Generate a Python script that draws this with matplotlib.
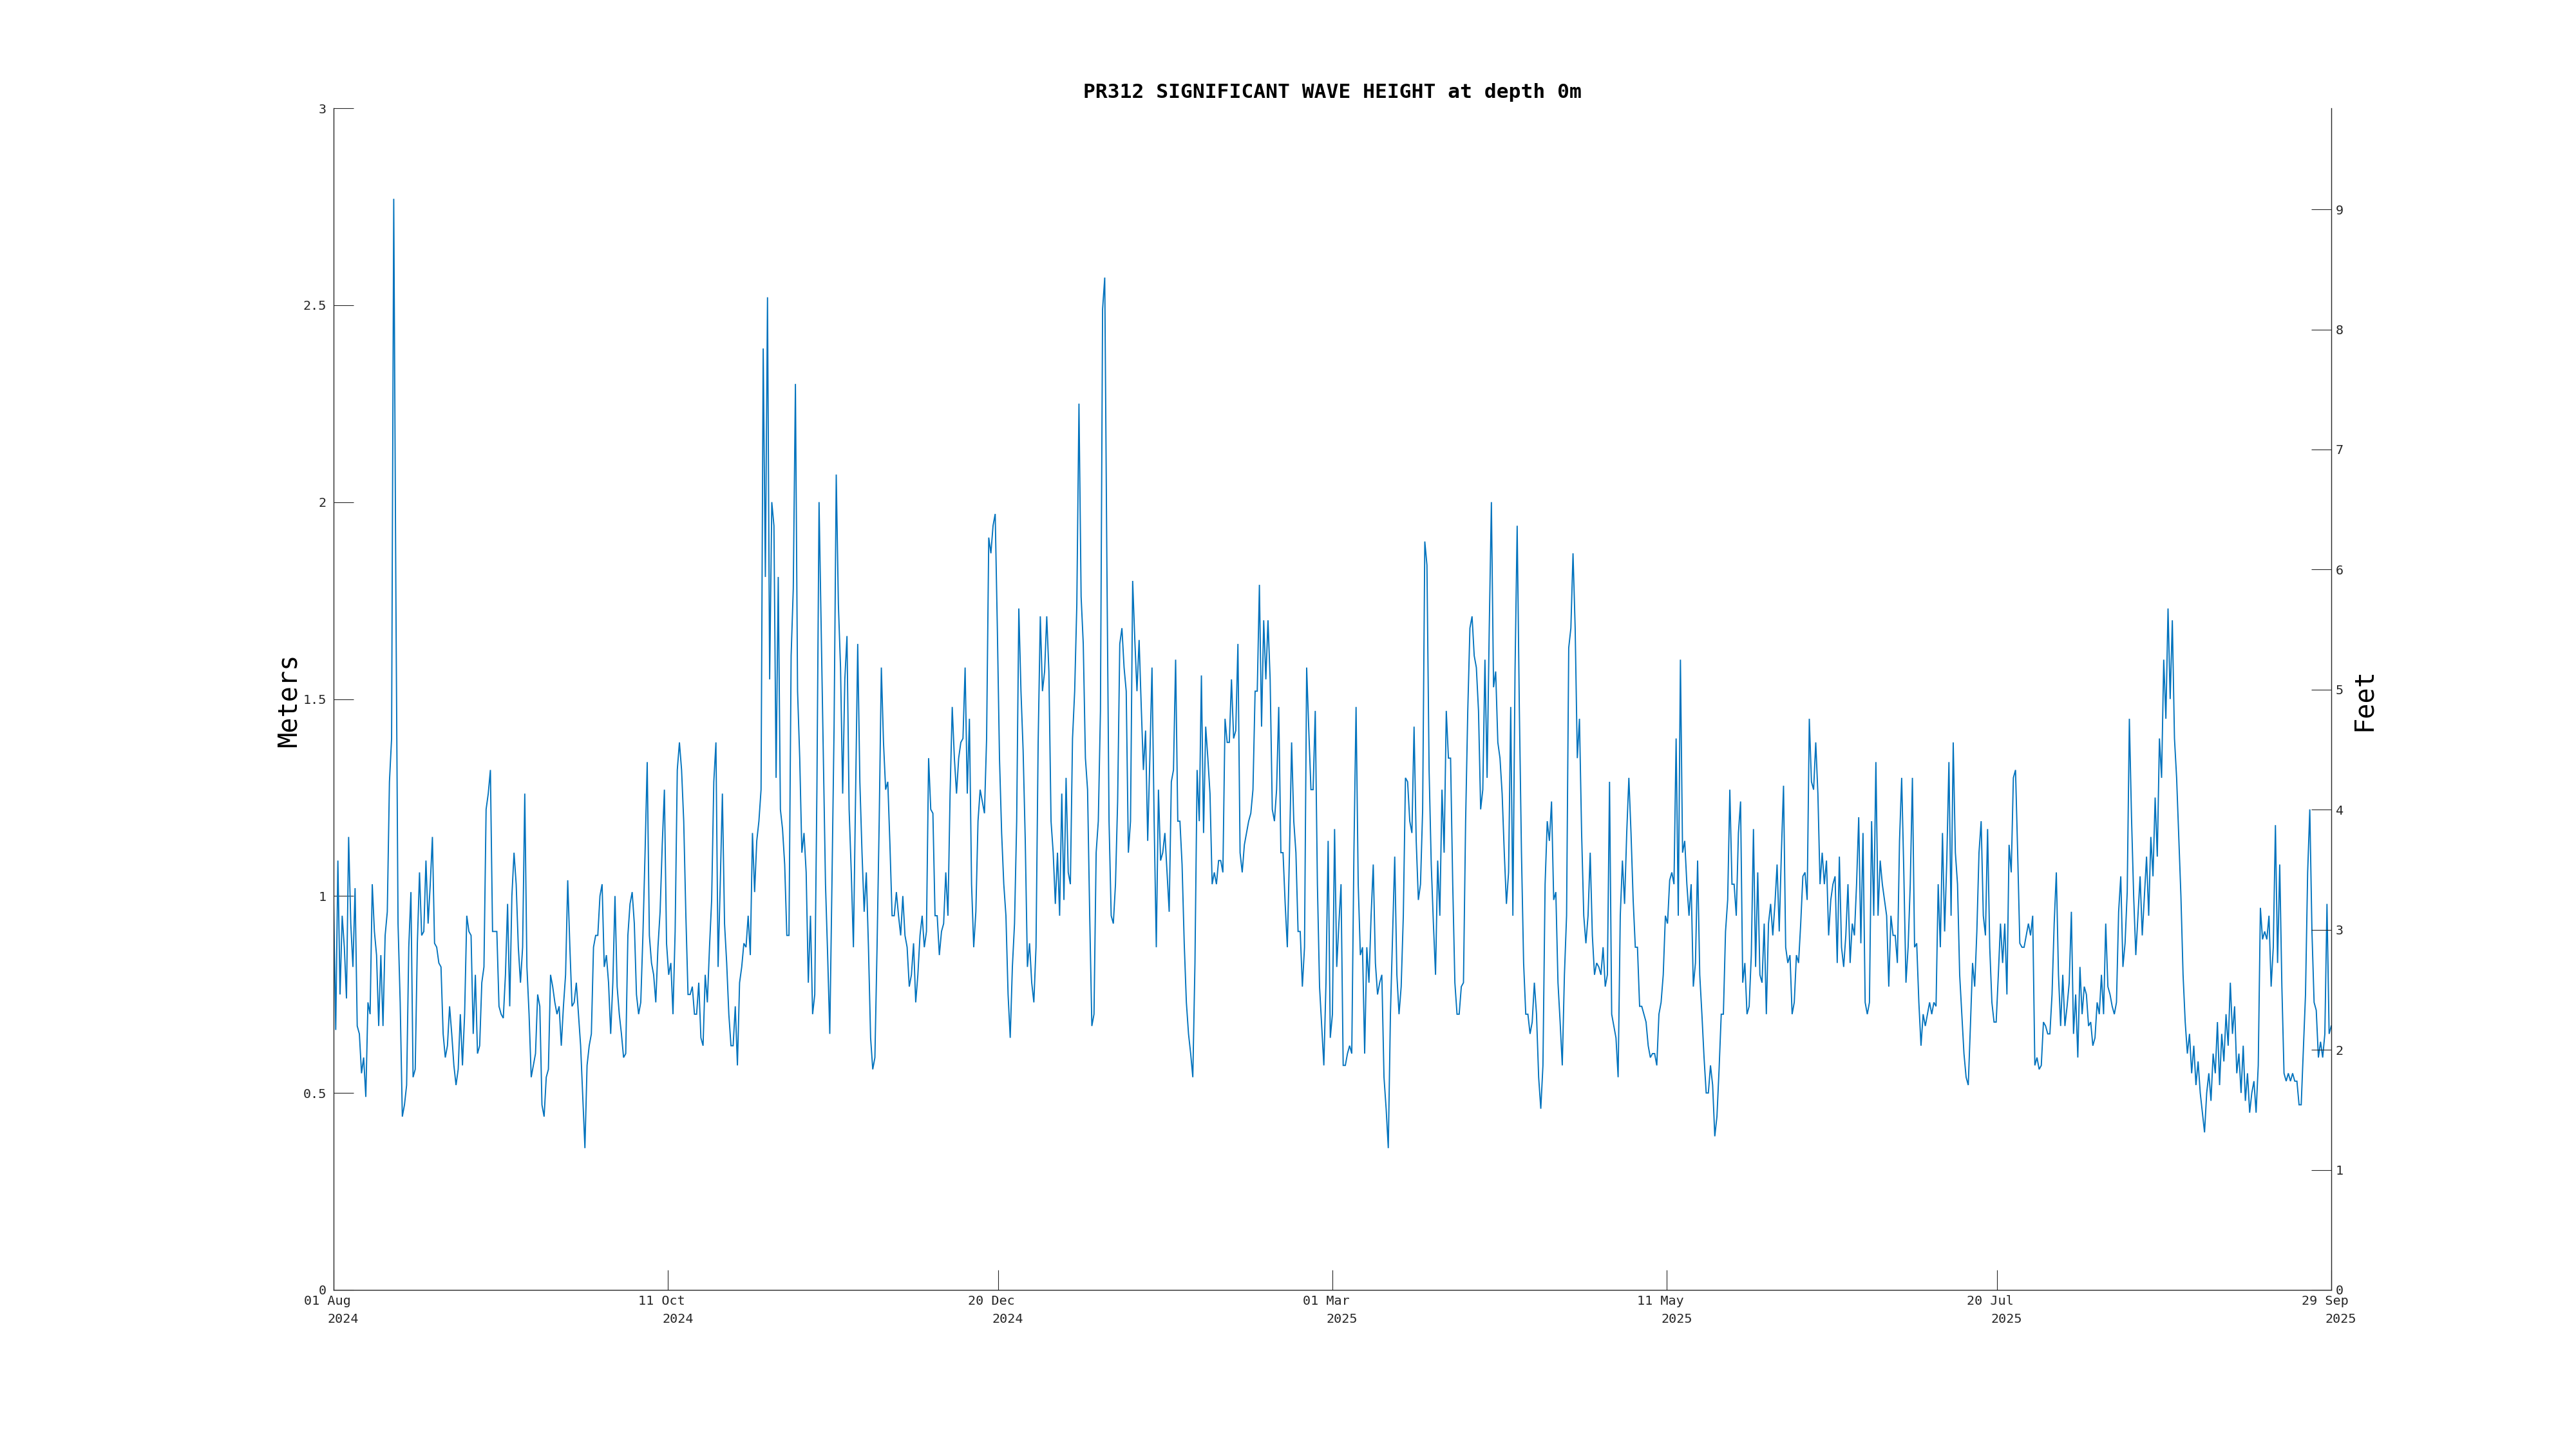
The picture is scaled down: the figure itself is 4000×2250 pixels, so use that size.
import numpy as np
import pandas as pd
import matplotlib
matplotlib.use("Agg")
import matplotlib.pyplot as plt
import matplotlib.dates as mdates
from matplotlib.transforms import ScaledTranslation, blended_transform_factory

# ---------------- data (significant wave height, metres) ----------------
hs_aug_sep_2024 = [
    0.99, 0.66, 1.09, 0.75, 0.95, 0.87, 0.74, 1.15, 0.93, 0.82,
    1.02, 0.67, 0.65, 0.55, 0.59, 0.49, 0.73, 0.70, 1.03, 0.91,
    0.85, 0.67, 0.85, 0.67, 0.90, 0.96, 1.29, 1.40, 2.77, 1.76,
    0.93, 0.73, 0.44, 0.47, 0.52, 0.87, 1.01, 0.54, 0.56, 0.88,
    1.06, 0.90, 0.91, 1.09, 0.93, 1.03, 1.15, 0.88, 0.87, 0.83,
    0.82, 0.65, 0.59, 0.62, 0.72, 0.65, 0.57, 0.52, 0.56, 0.70,
    0.57, 0.70, 0.95, 0.91, 0.90, 0.65, 0.80, 0.60, 0.62, 0.78,
    0.82, 1.22, 1.26, 1.32, 0.91, 0.91, 0.91, 0.72, 0.70, 0.69,
    0.80, 0.98, 0.72, 1.00, 1.11, 1.03, 0.87, 0.78, 0.87, 1.26,
    0.82, 0.70, 0.54]
hs_sep_oct_2024 = [
    0.57, 0.60, 0.75, 0.72, 0.47, 0.44, 0.54, 0.56, 0.80, 0.77,
    0.73, 0.70, 0.72, 0.62, 0.72, 0.80, 1.04, 0.87, 0.72, 0.73,
    0.78, 0.70, 0.62, 0.49, 0.36, 0.57, 0.62, 0.65, 0.87, 0.90,
    0.90, 1.00, 1.03, 0.82, 0.85, 0.78, 0.65, 0.78, 1.00, 0.77,
    0.70, 0.65, 0.59, 0.60, 0.90, 0.98, 1.01, 0.93, 0.75, 0.70,
    0.73, 0.90, 1.11, 1.34, 0.90, 0.83, 0.80, 0.73, 0.87, 0.96,
    1.13, 1.27, 0.88, 0.80, 0.83, 0.70, 0.91, 1.32, 1.39, 1.32,
    1.19, 0.95, 0.75, 0.75, 0.77, 0.70, 0.70, 0.78, 0.64, 0.62,
    0.80, 0.73, 0.87, 0.99, 1.29, 1.39, 0.82, 1.03, 1.26, 0.93,
    0.83, 0.70, 0.62]
hs_oct_dec_2024 = [
    0.62, 0.72, 0.57, 0.78, 0.82, 0.88, 0.87, 0.95, 0.85, 1.16,
    1.01, 1.14, 1.19, 1.27, 2.39, 1.81, 2.52, 1.55, 2.00, 1.94,
    1.30, 1.81, 1.22, 1.17, 1.08, 0.90, 0.90, 1.61, 1.78, 2.30,
    1.52, 1.35, 1.11, 1.16, 1.06, 0.78, 0.95, 0.70, 0.75, 1.27,
    2.00, 1.68, 1.35, 1.03, 0.85, 0.65, 1.03, 1.43, 2.07, 1.74,
    1.58, 1.26, 1.55, 1.66, 1.22, 1.06, 0.87, 1.26, 1.64, 1.29,
    1.11, 0.96, 1.06, 0.87, 0.64, 0.56, 0.59, 0.87, 1.19, 1.58,
    1.39, 1.27, 1.29, 1.13, 0.95, 0.95, 1.01, 0.95, 0.90, 1.00,
    0.90, 0.87, 0.77, 0.80, 0.88, 0.73, 0.80, 0.90, 0.95, 0.87,
    0.91, 1.35, 1.22]
hs_dec_jan_2025 = [
    1.21, 0.95, 0.95, 0.85, 0.91, 0.93, 1.06, 0.95, 1.26, 1.48,
    1.35, 1.26, 1.35, 1.39, 1.40, 1.58, 1.26, 1.45, 1.03, 0.87,
    0.96, 1.19, 1.27, 1.24, 1.21, 1.40, 1.91, 1.87, 1.94, 1.97,
    1.68, 1.35, 1.16, 1.03, 0.95, 0.75, 0.64, 0.82, 0.93, 1.19,
    1.73, 1.52, 1.37, 1.14, 0.82, 0.88, 0.78, 0.73, 0.87, 1.39,
    1.71, 1.52, 1.57, 1.71, 1.57, 1.19, 1.11, 0.98, 1.11, 0.95,
    1.26, 0.99, 1.30, 1.06, 1.03, 1.40, 1.52, 1.74, 2.25, 1.76,
    1.64, 1.35, 1.27, 0.95, 0.67, 0.70, 1.11, 1.19, 1.47, 2.49,
    2.57, 1.84, 1.19, 0.95, 0.93, 1.03, 1.24, 1.64, 1.68, 1.58,
    1.52, 1.11, 1.19]
hs_jan_feb_2025 = [
    1.80, 1.65, 1.52, 1.65, 1.48, 1.32, 1.42, 1.14, 1.35, 1.58,
    1.19, 0.87, 1.27, 1.09, 1.11, 1.16, 1.06, 0.96, 1.29, 1.32,
    1.60, 1.19, 1.19, 1.08, 0.88, 0.73, 0.65, 0.60, 0.54, 0.83,
    1.32, 1.19, 1.56, 1.16, 1.43, 1.35, 1.26, 1.03, 1.06, 1.03,
    1.09, 1.09, 1.06, 1.45, 1.39, 1.39, 1.55, 1.40, 1.42, 1.64,
    1.11, 1.06, 1.13, 1.16, 1.19, 1.21, 1.27, 1.52, 1.52, 1.79,
    1.43, 1.70, 1.55, 1.70, 1.55, 1.22, 1.19, 1.27, 1.48, 1.11,
    1.11, 0.98, 0.87, 1.11, 1.39, 1.19, 1.11, 0.91, 0.91, 0.77,
    0.87, 1.58, 1.42, 1.27, 1.27, 1.47, 1.03, 0.77, 0.67, 0.57,
    0.78, 1.14, 0.64]
hs_mar_apr_2025 = [
    0.70, 1.17, 0.82, 0.93, 1.03, 0.57, 0.57, 0.60, 0.62, 0.60,
    1.11, 1.48, 1.03, 0.85, 0.87, 0.60, 0.87, 0.78, 0.95, 1.08,
    0.83, 0.75, 0.78, 0.80, 0.54, 0.46, 0.36, 0.70, 0.90, 1.10,
    0.80, 0.70, 0.77, 0.95, 1.30, 1.29, 1.19, 1.16, 1.43, 1.14,
    0.99, 1.03, 1.22, 1.90, 1.84, 1.32, 1.08, 0.93, 0.80, 1.09,
    0.95, 1.27, 1.11, 1.47, 1.35, 1.35, 1.03, 0.78, 0.70, 0.70,
    0.77, 0.78, 1.19, 1.47, 1.68, 1.71, 1.61, 1.58, 1.47, 1.22,
    1.27, 1.60, 1.30, 1.68, 2.00, 1.53, 1.57, 1.39, 1.35, 1.26,
    1.11, 0.98, 1.06, 1.48, 0.95, 1.57, 1.94, 1.48, 1.11, 0.83,
    0.70, 0.70, 0.65]
hs_apr_may_2025 = [
    0.68, 0.78, 0.70, 0.54, 0.46, 0.57, 1.03, 1.19, 1.14, 1.24,
    0.99, 1.01, 0.78, 0.68, 0.57, 0.80, 0.95, 1.63, 1.68, 1.87,
    1.68, 1.35, 1.45, 1.16, 0.95, 0.88, 0.95, 1.11, 0.90, 0.80,
    0.83, 0.82, 0.80, 0.87, 0.77, 0.80, 1.29, 0.70, 0.67, 0.64,
    0.54, 0.95, 1.09, 0.98, 1.16, 1.30, 1.16, 0.99, 0.87, 0.87,
    0.72, 0.72, 0.70, 0.68, 0.62, 0.59, 0.60, 0.60, 0.57, 0.70,
    0.73, 0.80, 0.95, 0.93, 1.04, 1.06, 1.03, 1.40, 0.95, 1.60,
    1.11, 1.14, 1.03, 0.95, 1.03, 0.77, 0.83, 1.09, 0.80, 0.70,
    0.59, 0.50, 0.50, 0.57, 0.52, 0.39, 0.44, 0.56, 0.70, 0.70,
    0.91, 0.99, 1.27]
hs_may_jul_2025 = [
    1.03, 1.03, 0.95, 1.16, 1.24, 0.78, 0.83, 0.70, 0.72, 0.85,
    1.17, 0.82, 1.06, 0.80, 0.78, 0.93, 0.70, 0.93, 0.98, 0.90,
    0.98, 1.08, 0.91, 1.11, 1.28, 0.87, 0.83, 0.85, 0.70, 0.73,
    0.85, 0.83, 0.93, 1.05, 1.06, 0.99, 1.45, 1.29, 1.27, 1.39,
    1.26, 1.03, 1.11, 1.03, 1.09, 0.90, 0.99, 1.03, 1.05, 0.83,
    1.10, 0.87, 0.82, 0.90, 1.03, 0.83, 0.93, 0.90, 1.03, 1.20,
    0.88, 1.16, 0.73, 0.70, 0.73, 1.19, 0.95, 1.34, 0.95, 1.09,
    1.03, 0.99, 0.95, 0.77, 0.95, 0.90, 0.90, 0.83, 1.14, 1.30,
    1.06, 0.78, 0.87, 1.03, 1.30, 0.87, 0.88, 0.73, 0.62, 0.70,
    0.67, 0.70, 0.73]
hs_jul_aug_2025 = [
    0.70, 0.73, 0.72, 1.03, 0.87, 1.16, 0.91, 1.09, 1.34, 0.95,
    1.39, 1.11, 1.03, 0.80, 0.70, 0.60, 0.54, 0.52, 0.67, 0.83,
    0.77, 0.91, 1.11, 1.19, 0.95, 0.90, 1.17, 0.87, 0.73, 0.68,
    0.68, 0.80, 0.93, 0.83, 0.93, 0.75, 1.13, 1.06, 1.30, 1.32,
    1.11, 0.88, 0.87, 0.87, 0.90, 0.93, 0.90, 0.95, 0.57, 0.59,
    0.56, 0.57, 0.68, 0.67, 0.65, 0.65, 0.75, 0.93, 1.06, 0.80,
    0.67, 0.80, 0.67, 0.72, 0.78, 0.96, 0.65, 0.75, 0.59, 0.82,
    0.70, 0.77, 0.75, 0.67, 0.68, 0.62, 0.64, 0.73, 0.70, 0.80,
    0.70, 0.93, 0.77, 0.75, 0.72, 0.70, 0.73, 0.96, 1.05, 0.82,
    0.88, 1.01, 1.45]
hs_aug_sep_2025 = [
    1.20, 1.00, 0.85, 0.95, 1.05, 0.90, 1.00, 1.10, 0.95, 1.15,
    1.05, 1.25, 1.10, 1.40, 1.30, 1.60, 1.45, 1.73, 1.50, 1.70,
    1.40, 1.30, 1.15, 1.00, 0.80, 0.68, 0.60, 0.65, 0.55, 0.62,
    0.52, 0.58, 0.50, 0.45, 0.40, 0.50, 0.55, 0.48, 0.60, 0.55,
    0.68, 0.52, 0.65, 0.58, 0.70, 0.62, 0.78, 0.65, 0.72, 0.55,
    0.60, 0.50, 0.62, 0.48, 0.55, 0.45, 0.50,
    0.53, 0.45, 0.57, 0.97, 0.89, 0.91, 0.89, 0.95, 0.77, 0.87,
    1.18, 0.83, 1.08, 0.77, 0.55, 0.53, 0.55, 0.53, 0.55, 0.53,
    0.53, 0.47, 0.47, 0.61, 0.75, 1.06, 1.22, 0.91, 0.73, 0.71,
    0.59, 0.63, 0.59, 0.65, 0.98, 0.65, 0.67]

series_start = "2024-08-01"
series_end = "2025-09-29"

tick_dates = ["2024-08-01", "2024-10-11", "2024-12-20", "2025-03-01",
              "2025-05-11", "2025-07-20", "2025-09-29"]
tick_day_month = ["01 Aug", "11 Oct", "20 Dec", "01 Mar", "11 May", "20 Jul", "29 Sep"]
tick_years = ["2024", "2024", "2024", "2025", "2025", "2025", "2025"]
meter_ticks = [0, 0.5, 1, 1.5, 2, 2.5, 3]
meter_labels = ["0", "0.5", "1", "1.5", "2", "2.5", "3"]
feet_ticks = [0, 1, 2, 3, 4, 5, 6, 7, 8, 9]
M_TO_FT = 3.28084

title_text = "PR312 SIGNIFICANT WAVE HEIGHT at depth 0m"

# ---------------- figure ----------------
plt.rcParams['font.family'] = ['DejaVu Sans Mono', 'DejaVu Sans']
W, H = 4000, 2250
fig = plt.figure(figsize=(W / 100, H / 100), dpi=100)
L, R, T, B = 518, 3620, 168, 2003
ax = fig.add_axes([L / W, 1 - B / H, (R - L) / W, (B - T) / H])

hs = np.concatenate([hs_aug_sep_2024, hs_sep_oct_2024, hs_oct_dec_2024,
                     hs_dec_jan_2025, hs_jan_feb_2025, hs_mar_apr_2025,
                     hs_apr_may_2025, hs_may_jul_2025, hs_jul_aug_2025,
                     hs_aug_sep_2025])
t = pd.date_range(series_start, series_end, periods=len(hs))

line_color = '#0072BD'
axis_color = '#262626'
ax.plot(t, hs, color=line_color, lw=1.35, solid_joinstyle='miter')

ax.set_xlim(pd.Timestamp(series_start), pd.Timestamp(series_end))
ax.set_ylim(0, 3)
ax.set_yticks(meter_ticks)
ax.set_yticklabels(meter_labels)
ax.set_xticks(pd.to_datetime(tick_dates))
ax.set_xticklabels([])
ax.tick_params(axis='both', direction='in', length=22, width=0.8,
               colors=axis_color, labelsize=14.5)
ax.tick_params(axis='y', pad=8)
ax.spines['top'].set_visible(False)
ax.spines['right'].set_visible(False)
for s in ['left', 'bottom']:
    ax.spines[s].set_color(axis_color)
    ax.spines[s].set_linewidth(1.0)

# two-line date labels
trans_base = blended_transform_factory(ax.transData, ax.transAxes)
for d, dm, yr in zip(tick_dates, tick_day_month, tick_years):
    xd = mdates.date2num(pd.Timestamp(d))
    ax.text(xd, 0, dm, transform=trans_base + ScaledTranslation(-10 / 100, -17 / 100, fig.dpi_scale_trans),
            ha='center', va='center', fontsize=14.5, color=axis_color)
    ax.text(xd, 0, yr, transform=trans_base + ScaledTranslation(15 / 100, -45 / 100, fig.dpi_scale_trans),
            ha='center', va='center', fontsize=14.5, color=axis_color)

# right axis in feet
ax2 = ax.twinx()
ax2.set_ylim(0, 3 * M_TO_FT)
ax2.set_yticks(feet_ticks)
ax2.set_yticklabels([str(v) for v in feet_ticks])
ax2.tick_params(axis='y', direction='in', length=22, width=0.8,
                colors=axis_color, labelsize=14.5, pad=5)
for s in ['top', 'left', 'bottom']:
    ax2.spines[s].set_visible(False)
ax2.spines['right'].set_color(axis_color)
ax2.spines['right'].set_linewidth(1.0)

# labels and title
fig.text((L + R) / 2 / W, 1 - 143 / H, title_text, ha='center', va='center',
         fontsize=22.5, fontweight='bold', color='black')
fig.text(449 / W, 1 - 1087 / H, "Meters", rotation=90, ha='center', va='center',
         fontsize=29, color='black')
fig.text(3671 / W, 1 - 1087 / H, "Feet", rotation=90, ha='center', va='center',
         fontsize=29, color='black')

fig.savefig("out.png", dpi=100, facecolor='white')
